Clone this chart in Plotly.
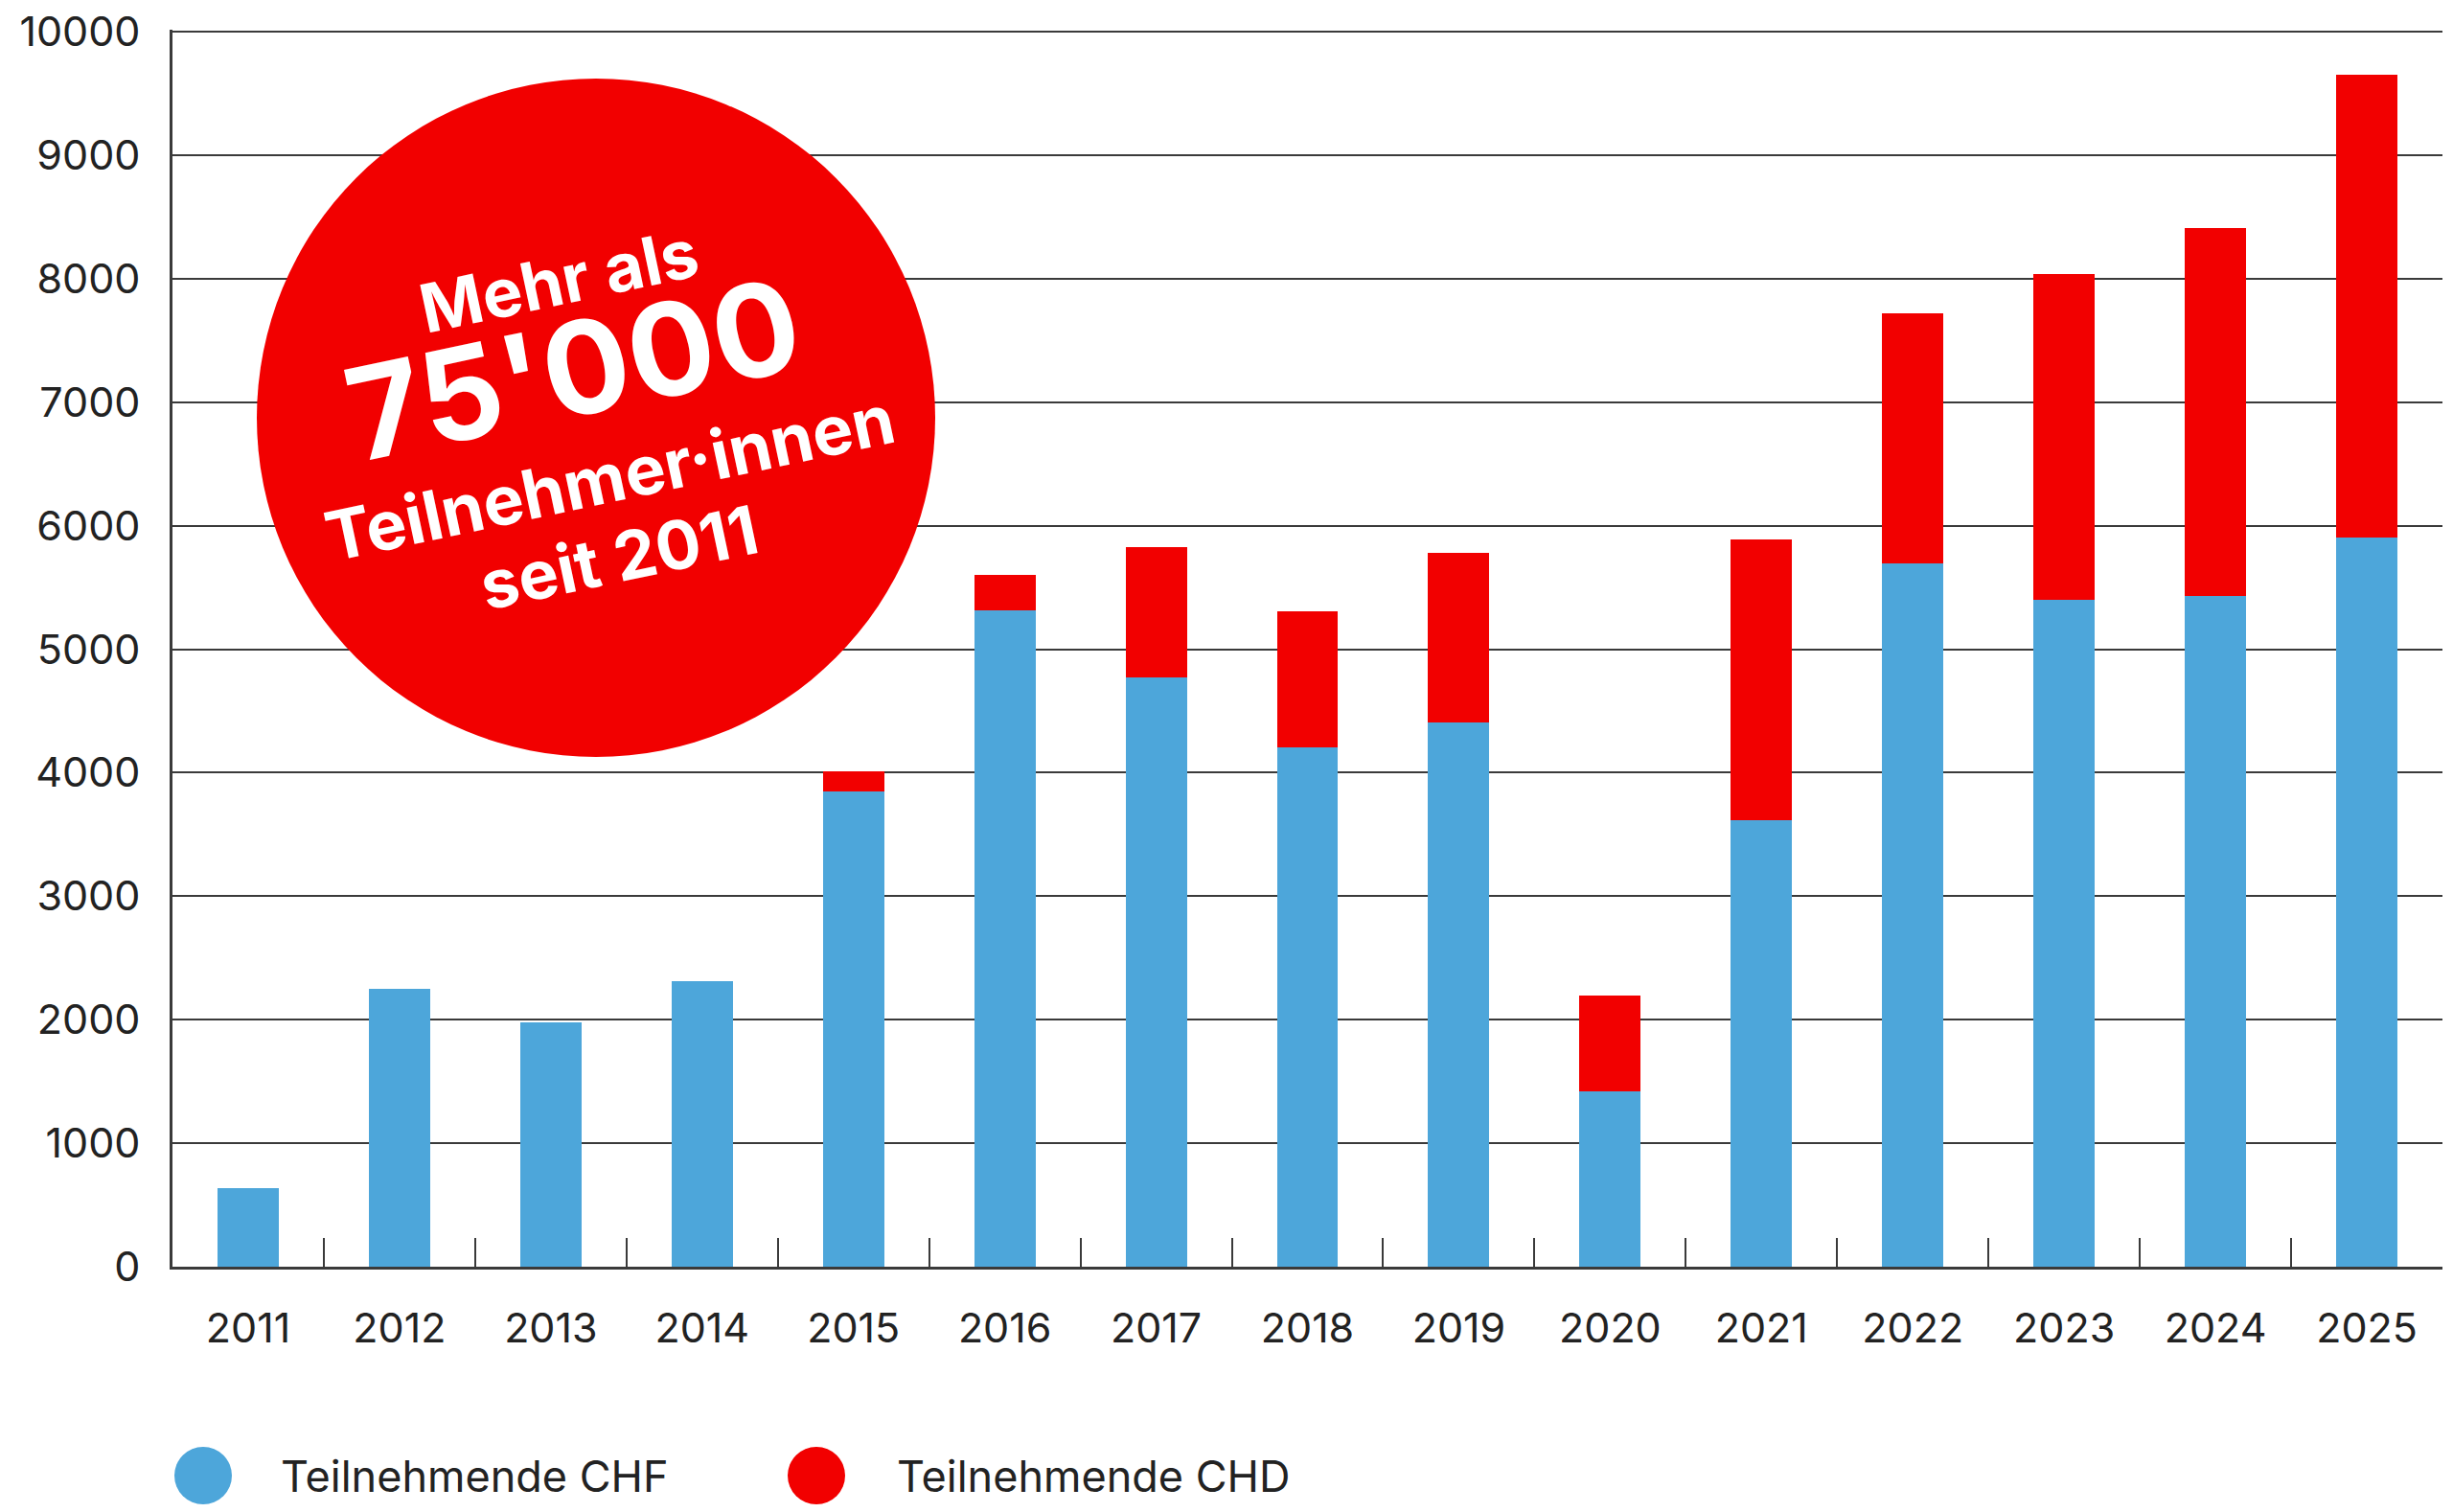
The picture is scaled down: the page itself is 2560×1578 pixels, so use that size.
import plotly.graph_objects as go

# ---- data ----
years = ["2011", "2012", "2013", "2014", "2015", "2016", "2017", "2018",
         "2019", "2020", "2021", "2022", "2023", "2024", "2025"]
chf = [637, 2250, 1977, 2312, 3845, 5317, 4772, 4206, 4407, 1418, 3617, 5695, 5397, 5430, 5905]
chd = [0, 0, 0, 0, 168, 286, 1053, 1101, 1374, 775, 2273, 2023, 2642, 2978, 3745]
series_names = ["Teilnehmende CHF", "Teilnehmende CHD"]
y_ticks = [0, 1000, 2000, 3000, 4000, 5000, 6000, 7000, 8000, 9000, 10000]
y_ticktext = ["0", "1000", "2000", "3000", "4000", "5000", "6000", "7000", "8000", "9000", "10000"]
badge_lines = ["Mehr als", "75'000", "Teilnehmer·innen", "seit 2011"]

# ---- style / geometry (page pixel coordinates; body margin removed below) ----
W, H = 2560, 1578
PLOT_L, PLOT_R, PLOT_T, PLOT_B = 180, 2549, 31, 1322
ML, MT = PLOT_L, PLOT_T
MR, MB = W - PLOT_R, H - PLOT_B
PW, PH = W - ML - MR, H - MT - MB
Y_MAX = 10016
BLUE = "#4DA6DA"
RED = "#F20000"
TXT = "#222222"
LINE = "#3a3a3a"
FONT = "Inter"


def px(x):
    return (x - PLOT_L) / PW


def py(y):
    return (PLOT_B - y) / PH


fig = go.Figure()
fig.add_trace(go.Bar(x=years, y=chf, name=series_names[0], marker_color=BLUE,
                     marker_line_width=0, showlegend=False))
fig.add_trace(go.Bar(x=years, y=chd, name=series_names[1], marker_color=RED,
                     marker_line_width=0, showlegend=False))

# ---- badge circle ----
shapes = []
cx, cy, r = 622, 436, 354
shapes.append(dict(type="circle", xref="paper", yref="paper",
                   xsizemode="pixel", ysizemode="pixel",
                   xanchor=px(cx), yanchor=py(cy),
                   x0=-r, x1=r, y0=-r, y1=r,
                   fillcolor=RED, line_width=0, layer="above"))

annotations = []
badge_pos = [(583, 292, 70), (598, 385, 134), (636, 498, 71), (646, 581, 70)]
for txt, (bx, by, fs) in zip(badge_lines, badge_pos):
    annotations.append(dict(text=txt, x=px(bx), y=py(by), xref="paper", yref="paper",
                            showarrow=False, textangle=-12,
                            xanchor="center", yanchor="middle",
                            font=dict(family=FONT, size=fs, color="white", weight=700)))

# ---- manual legend ----
leg_items = [(212, 291, BLUE), (852, 934, RED)]
for name, (ccx, tx, col) in zip(series_names, leg_items):
    shapes.append(dict(type="circle", xref="paper", yref="paper",
                       xsizemode="pixel", ysizemode="pixel",
                       xanchor=px(ccx), yanchor=py(1540),
                       x0=-30, x1=30, y0=-30, y1=30,
                       fillcolor=col, line_width=0))
    annotations.append(dict(text=name, x=px(tx), y=py(1540), xref="paper", yref="paper",
                            showarrow=False, xanchor="left", yanchor="middle",
                            font=dict(family=FONT, size=45, color=TXT)))

fig.update_layout(
    width=W, height=H,
    margin=dict(l=ML, r=MR, t=MT, b=MB, pad=0, autoexpand=False),
    barmode="stack", bargap=0.595,
    plot_bgcolor="white", paper_bgcolor="white",
    font=dict(family=FONT, color=TXT),
    showlegend=False,
    shapes=shapes, annotations=annotations,
    xaxis=dict(type="category", automargin=False, showline=True, linecolor=LINE, linewidth=3,
               ticks="inside", tickson="boundaries", ticklen=30, tickwidth=2,
               tickcolor=LINE, showgrid=False,
               tickfont=dict(family=FONT, size=43, color=TXT),
               ticklabelstandoff=24, ticklabeloverflow="allow"),
    yaxis=dict(range=[0, Y_MAX], automargin=False, tickvals=y_ticks, ticktext=y_ticktext,
               showline=True, linecolor=LINE,
               linewidth=3, showgrid=True, gridcolor=LINE, gridwidth=2,
               zeroline=False, ticks="",
               tickfont=dict(family=FONT, size=43, color=TXT),
               ticklabelstandoff=22, ticklabeloverflow="allow"),
)

fig.write_html("out.html", config={"displayModeBar": False},
               post_script="document.body.style.margin='0';document.body.style.overflow='hidden';")
